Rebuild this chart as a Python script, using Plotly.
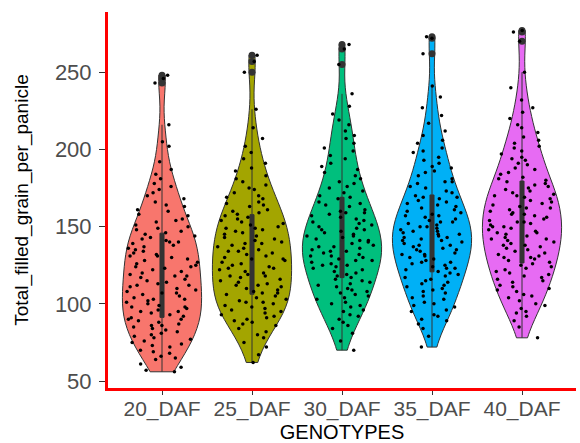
import plotly.graph_objects as go

categories = ["20_DAF", "25_DAF", "30_DAF", "35_DAF", "40_DAF"]
colors = ["#F8766D", "#A3A500", "#00BF7D", "#00B0F6", "#E76BF3"]

g20 = [56, 57, 59, 61, 64,
       65, 66, 68, 69, 70, 72, 73, 74,
       75, 76, 77, 78, 79, 80, 81, 82, 83, 84,
       85, 86, 86, 87, 88, 89, 90, 90, 91, 92, 93, 94,
       95, 95, 96, 97, 98, 98, 99, 100, 101, 102, 103, 103, 104,
       105, 106, 107, 107, 108, 109, 110, 111, 112, 112, 113, 114,
       115, 116, 117, 118, 118, 119, 120, 121, 122, 123, 124, 124,
       125, 126, 127, 128, 129, 130, 131, 131, 132, 133, 134,
       135, 136, 137, 138, 139, 140, 140, 141, 142, 143, 144,
       145, 146, 147, 148, 149, 150, 151, 153, 154,
       155, 157, 158, 160, 161, 163, 164,
       166, 168, 170, 172, 174,
       176, 178, 181, 184,
       187, 192, 202, 205, 216, 243, 246, 248]
g25 = [62, 67, 72, 75, 78,
       80, 82, 84, 86, 87, 88, 89,
       90, 91, 92, 93, 94, 95, 96, 97, 98, 99,
       100, 101, 101, 102, 103, 104, 105, 106, 107, 107, 108, 109,
       110, 111, 112, 112, 113, 114, 115, 116, 117, 118, 118, 119,
       120, 121, 122, 123, 123, 124, 125, 126, 127, 128, 129, 129,
       130, 131, 132, 133, 134, 134, 135, 136, 137, 138, 139, 139,
       140, 141, 142, 143, 144, 145, 146, 147, 148, 149, 149,
       150, 151, 152, 153, 154, 155, 156, 157, 158, 159,
       160, 161, 163, 164, 165, 166, 168, 169,
       170, 172, 174, 175, 177, 179,
       181, 183, 186, 188,
       191, 194, 198, 202, 207, 214, 226, 250, 257, 261]
g30 = [70, 76, 81, 84, 86, 88,
       90, 92, 93, 95, 96, 98, 99,
       100, 101, 103, 104, 105, 106, 107, 108, 109,
       110, 111, 112, 113, 114, 115, 116, 117, 118, 119,
       120, 121, 122, 123, 124, 125, 125, 126, 127, 128, 128, 129,
       130, 131, 131, 132, 133, 134, 134, 135, 136, 137, 137, 138, 139,
       140, 141, 141, 142, 143, 144, 144, 145, 146, 147, 148, 148, 149,
       150, 151, 152, 153, 154, 155, 156, 157, 158, 159, 159,
       160, 161, 163, 164, 165, 166, 168, 169,
       170, 172, 173, 175, 176, 178, 179,
       181, 183, 185, 187, 189,
       191, 194, 196, 199,
       201, 204, 207, 209,
       212, 216, 219, 223, 228, 236, 255, 265, 268]
g35 = [72, 79, 84, 87, 89,
       90, 92, 93, 95, 96, 98, 99,
       100, 101, 103, 104, 105, 107, 108, 109,
       110, 111, 112, 113, 114, 115, 116, 117, 118, 119,
       120, 121, 122, 123, 123, 124, 125, 126, 127, 127, 128, 129,
       130, 131, 132, 132, 133, 134, 135, 135, 136, 137, 138, 138, 139,
       140, 141, 141, 142, 143, 143, 144, 145, 145, 146, 147, 147, 148, 149,
       150, 150, 151, 152, 153, 153, 154, 155, 156, 157, 157, 158, 159,
       160, 161, 162, 163, 164, 165, 166, 167, 168, 169, 169,
       170, 172, 173, 175, 176, 178, 179, 179,
       181, 183, 185, 186, 188, 189,
       191, 193, 195, 198, 199,
       201, 204, 206, 209,
       212, 217, 222, 227, 234, 241, 262, 272, 273]
g40 = [78, 85, 89, 92, 94,
       95, 97, 99, 100, 102, 104,
       105, 106, 108, 109, 110, 111, 112, 114,
       115, 116, 117, 118, 119, 120, 121, 122, 123, 124,
       125, 126, 127, 128, 129, 130, 130, 131, 132, 133, 134,
       135, 136, 137, 138, 138, 139, 140, 141, 142, 142, 143, 144,
       145, 146, 146, 147, 148, 149, 150, 150, 151, 152, 153, 153, 154,
       155, 156, 157, 158, 158, 159, 160, 161, 162, 162, 163, 164,
       165, 166, 167, 168, 169, 170, 170, 171, 172, 173, 174,
       175, 176, 177, 178, 179, 180, 181, 182, 184,
       185, 187, 188, 190, 191, 193, 194,
       195, 197, 199, 201, 202, 204,
       206, 208, 211, 214,
       216, 220, 224, 227, 232, 240, 250, 270, 276, 277]

groups = [g20, g25, g30, g35, g40]
y_ticks = [50, 100, 150, 200, 250]

fig = go.Figure()

# violins (trimmed, equal max width)
for cat, vals, col in zip(categories, groups, colors):
    fig.add_trace(go.Violin(
        x=[cat] * len(vals), y=vals, name=cat,
        fillcolor=col, opacity=1,
        line=dict(color="#333333", width=1),
        spanmode="hard", scalemode="width", width=0.88, bandwidth=12,
        points=False, box_visible=False, meanline_visible=False,
        showlegend=False, hoverinfo="skip",
    ))

all_x = [c for c, v in zip(categories, groups) for _ in v]
all_y = [y for v in groups for y in v]

# narrow boxplot with outliers
fig.add_trace(go.Box(
    x=all_x, y=all_y, width=0.045,
    fillcolor="#333333", line=dict(color="#333333", width=1),
    boxpoints="outliers", pointpos=0, jitter=0,
    marker=dict(color="#333333", size=7),
    whiskerwidth=0, showlegend=False, hoverinfo="skip",
))

# jittered raw points
fig.add_trace(go.Box(
    x=all_x, y=all_y, width=0.8,
    fillcolor="rgba(0,0,0,0)", line=dict(color="rgba(0,0,0,0)", width=0),
    boxpoints="all", pointpos=0, jitter=1,
    marker=dict(color="black", size=3.5, line=dict(width=0)),
    whiskerwidth=0, showlegend=False, hoverinfo="skip",
))

fig.update_layout(
    width=580, height=443,
    margin=dict(l=108, r=4, t=12, b=53),
    paper_bgcolor="white", plot_bgcolor="white",
    violinmode="overlay", boxmode="overlay",
    font=dict(family="Liberation Sans, Arial, sans-serif"),
)
fig.update_xaxes(
    type="category", categoryorder="array", categoryarray=categories,
    range=[-0.6, 4.6],
    showline=True, linecolor="#FF0000", linewidth=3,
    ticks="outside", tickcolor="#333333", ticklen=4, tickwidth=1,
    tickfont=dict(size=21, color="#4D4D4D"), ticklabelstandoff=-4,
    title=dict(text="GENOTYPES", font=dict(size=20, color="black"), standoff=4),
    showgrid=False, zeroline=False,
)
fig.update_yaxes(
    range=[45.5, 289], tickvals=y_ticks,
    showline=True, linecolor="#FF0000", linewidth=3,
    ticks="outside", tickcolor="#333333", ticklen=6, tickwidth=1,
    tickfont=dict(size=22, color="#4D4D4D"), ticklabelstandoff=3,
    title=dict(text="Total_filled_grain_per_panicle", font=dict(size=19, color="black"), standoff=22),
    showgrid=False, zeroline=False,
)

fig.write_html("out.html", config={"displayModeBar": False},
               post_script="document.body.style.margin='0';")
